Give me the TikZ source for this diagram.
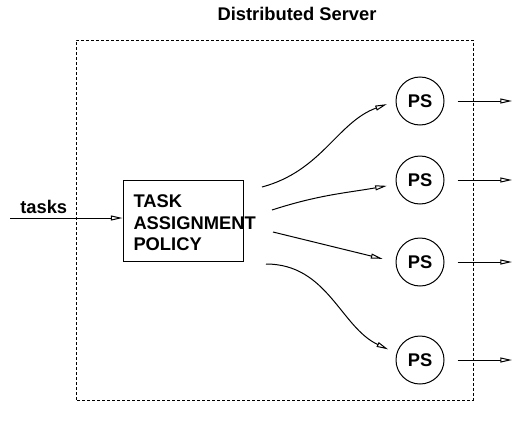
\documentclass[tikz,border=0pt]{standalone}
\usepackage{fontspec}
\setmainfont{Liberation Sans}
\usetikzlibrary{arrows.meta}

\begin{document}
\begin{tikzpicture}[x=0.6pt,y=0.6pt,
		font=\fontsize{11}{13}\selectfont\bfseries,
		line width=0.6pt,
		>={Triangle[open,length=7pt,width=3pt]},
		flow/.style={->,shorten >=5.5pt},
		outflow/.style={->,shorten <=7.8pt},
		ps/.style={draw,circle,minimum size=28.8pt,inner sep=0pt}]
		\useasboundingbox (0,0) rectangle (514,431);
		\node (title) at (297,417) {Distributed Server};
		\draw[dash pattern=on 1.8pt off 1.2pt] (76,31) rectangle (473,391);
		% policy box, the text runs over its right side
		\node[draw,minimum width=72pt,minimum height=49pt] (policy) at (183,210) {};
		\node[anchor=west,align=left,inner sep=0pt] (policytext) at (133,208)
			{TASK\\ASSIGNMENT\\POLICY};
		\coordinate (in) at (10,213);
		\draw[->] (in) -- node[above,pos=0.3,inner sep=2pt] {tasks} (policy.west |- in);
		\node[ps] (ps1) at (420,330) {PS};
		\node[ps] (ps2) at (420,251) {PS};
		\node[ps] (ps3) at (420,169) {PS};
		\node[ps] (ps4) at (420,71) {PS};
		\coordinate (a1) at (262,244);
		\coordinate (a2) at (272,221);
		\coordinate (a3) at (273,199);
		\coordinate (a4) at (266,167);
		\coordinate (edge) at (512,0);
		\draw[flow] (a1) to[out=15,in=200] (ps1.west);
		\draw[flow] (a2) to[out=18,in=190] (ps2.190);
		\draw[flow,shorten >=8pt] (a3) -- (ps3.west);
		\draw[flow] (a4) to[out=0,in=155] (ps4.164);
		\foreach \i in {1,...,4}
			\draw[outflow] (ps\i.east) -- (ps\i.east -| edge);
	\end{tikzpicture}
\end{document}
